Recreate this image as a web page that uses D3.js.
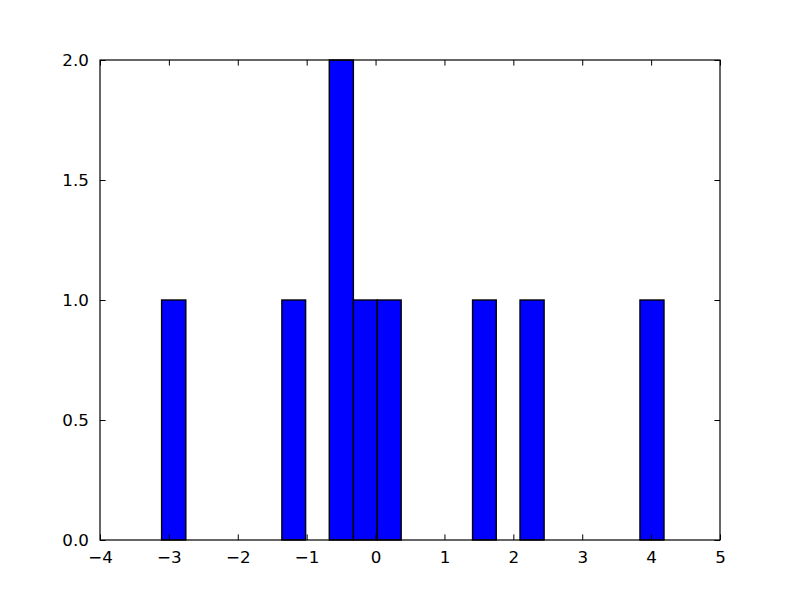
<!DOCTYPE html>
<html>
<head>
<meta charset="utf-8">
<script src="https://cdn.jsdelivr.net/npm/d3@7"></script>
<style>
  html, body { margin: 0; padding: 0; background: #fff; }
  svg { display: block; }
  text { font-family: "DejaVu Sans", sans-serif; font-size: 16.7px; fill: #000; }
</style>
</head>
<body>
<svg id="chart" width="800" height="600"></svg>
<script>
// Histogram bins (only non-empty bins)
const binLeft  = [-3.106, -1.360, -0.672, -0.322, 0.025, 1.408, 2.097, 3.838];
const binRight = [-2.754, -1.015, -0.322, 0.025, 0.372, 1.752, 2.447, 4.187];
const counts   = [1, 1, 2, 1, 1, 1, 1, 1];

const xTicks = [-4, -3, -2, -1, 0, 1, 2, 3, 4, 5];
const yTicks = [0, 0.5, 1, 1.5, 2];

(function () {
const W = 800, H = 600;
const margin = { left: 100, right: 80, top: 60, bottom: 60 };
const svg = d3.select("#chart");
svg.append("rect").attr("width", W).attr("height", H).attr("fill", "#fff");

const x = d3.scaleLinear().domain([-4, 5]).range([margin.left, W - margin.right]);
const y = d3.scaleLinear().domain([0, 2]).range([H - margin.bottom, margin.top]);

const bars = binLeft.map((l, i) => ({ l, r: binRight[i], c: counts[i] }));

svg.append("g").selectAll("rect").data(bars).enter().append("rect")
  .attr("x", d => x(d.l))
  .attr("y", d => y(d.c))
  .attr("width", d => x(d.r) - x(d.l))
  .attr("height", d => y(0) - y(d.c))
  .attr("fill", "#0000ff")
  .attr("stroke", "#000")
  .attr("stroke-width", 1.39);

const tickLen = 5.6, pad = 5.6;
const fmtX = d => (d < 0 ? "\u2212" + Math.abs(d) : String(d));
const fmtY = d3.format(".1f");

const axB = d3.axisBottom(x).tickValues(xTicks).tickSize(-tickLen).tickPadding(pad + tickLen).tickFormat(fmtX);
const gb = svg.append("g").attr("transform", `translate(0,${y(0)})`).call(axB);
const axT = d3.axisTop(x).tickValues(xTicks).tickSize(-tickLen).tickFormat("");
const gt = svg.append("g").attr("transform", `translate(0,${y(2)})`).call(axT);
const axL = d3.axisLeft(y).tickValues(yTicks).tickSize(-tickLen).tickPadding(pad + tickLen).tickFormat(fmtY);
const gl = svg.append("g").attr("transform", `translate(${x(-4)},0)`).call(axL);
const axR = d3.axisRight(y).tickValues(yTicks).tickSize(-tickLen).tickFormat("");
const gr = svg.append("g").attr("transform", `translate(${x(5)},0)`).call(axR);

[gb, gt, gl, gr].forEach(g => {
  g.select(".domain").remove();
  g.selectAll(".tick line").attr("stroke", "#000").attr("stroke-width", 1);
  g.selectAll("text").style("font-family", '"DejaVu Sans", sans-serif').style("font-size", "16.7px").attr("fill", "#000");
});

svg.append("rect")
  .attr("x", x(-4)).attr("y", y(2))
  .attr("width", x(5) - x(-4)).attr("height", y(0) - y(2))
  .attr("fill", "none").attr("stroke", "#000").attr("stroke-width", 1.2);
})();
</script>
</body>
</html>
